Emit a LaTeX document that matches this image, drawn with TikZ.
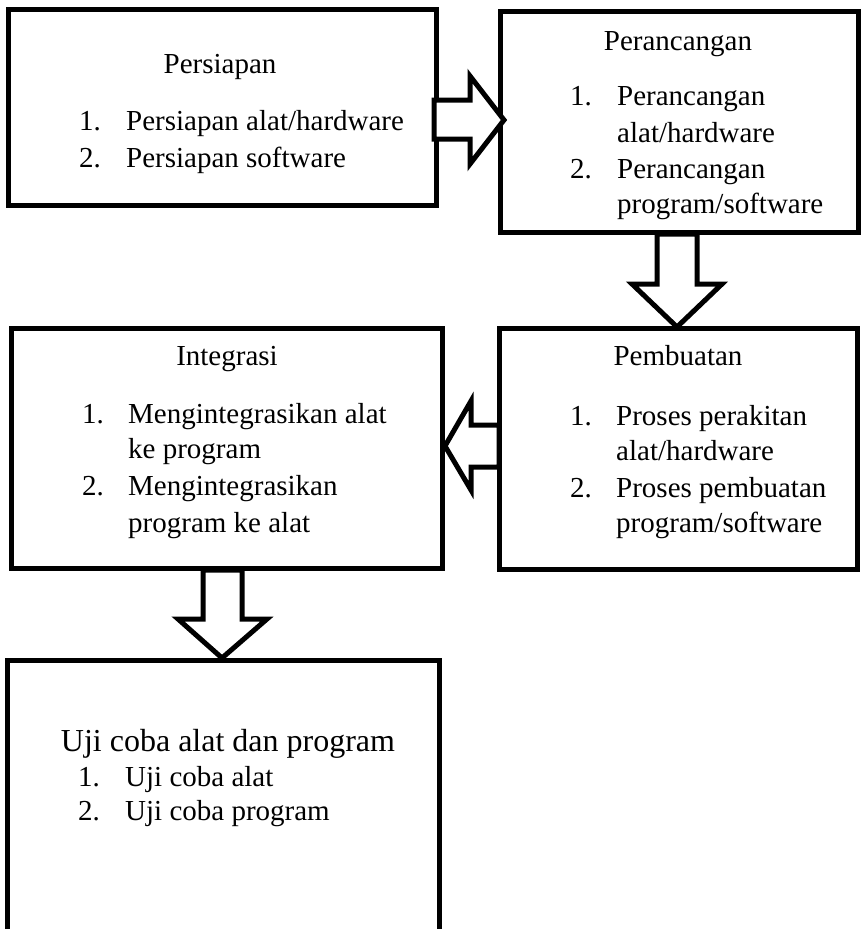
\documentclass[tikz,border=0pt]{standalone}
\usepackage{fontspec}
\setmainfont{Liberation Serif}
\begin{document}
\begin{tikzpicture}[x=1pt,y=-1pt,
  box/.style={draw=black, line width=5pt, rectangle, inner sep=0pt, outer sep=0pt},
  blockarrow/.style={draw=black, fill=white, line width=5pt, line join=miter},
  title/.style={anchor=base, inner sep=0pt, font=\fontsize{29}{35}\selectfont},
  item/.style={anchor=base west, inner sep=0pt, font=\fontsize{29}{35}\selectfont}]
\useasboundingbox[fill=white] (0,0) rectangle (864,929);
% boxes
\node[box, minimum width=428pt, minimum height=196pt] (persiapan) at (222,107) {};
\node[box, minimum width=358pt, minimum height=221pt] (perancangan) at (679,121.5) {};
\node[box, minimum width=431pt, minimum height=240pt] (integrasi) at (226.5,448) {};
\node[box, minimum width=358pt, minimum height=241pt] (pembuatan) at (678,448.5) {};
\coordinate (ujiBL) at (7,935);
\coordinate (ujiTL) at (7,660);
\coordinate (ujiTR) at (439,660);
\coordinate (ujiBR) at (439,935);
\draw[line width=5pt, line join=miter] (ujiBL) -- (ujiTL) -- (ujiTR) -- (ujiBR);
% block arrows
\draw[blockarrow] (434,100) -- (470,100) -- (470,76) -- (504,120) -- (470,164) -- (470,139) -- (434,139) -- cycle;
\draw[blockarrow] (657,234) -- (657,284) -- (632,284) -- (677,327) -- (722,284) -- (697,284) -- (697,234) -- cycle;
\draw[blockarrow] (499,425) -- (471,425) -- (471,401) -- (445,446) -- (471,490) -- (471,467) -- (499,467) -- cycle;
\draw[blockarrow] (203,570) -- (203,619) -- (178,619) -- (222,658) -- (267,619) -- (242,619) -- (242,570) -- cycle;
% Persiapan
\node[title] (t1) at (220,73) {Persiapan};
\node[item] (a1n) at (79,130) {1.};
\node[item] (a1t) at (126,130) {Persiapan alat/hardware};
\node[item] (a2n) at (79,167) {2.};
\node[item] (a2t) at (126,167) {Persiapan software};
% Perancangan
\node[title] (t2) at (678,50) {Perancangan};
\node[item] (b1n) at (570,105) {1.};
\node[item] (b1t) at (617,105) {Perancangan};
\node[item] (b1u) at (617,142) {alat/hardware};
\node[item] (b2n) at (570,178) {2.};
\node[item] (b2t) at (617,178) {Perancangan};
\node[item] (b2u) at (617,213) {program/software};
% Integrasi
\node[title] (t3) at (227,365) {Integrasi};
\node[item] (c1n) at (82,423) {1.};
\node[item] (c1t) at (128,423) {Mengintegrasikan alat};
\node[item] (c1u) at (128,458) {ke program};
\node[item] (c2n) at (82,495) {2.};
\node[item] (c2t) at (128,495) {Mengintegrasikan};
\node[item] (c2u) at (128,532) {program ke alat};
% Pembuatan
\node[title] (t4) at (678,365) {Pembuatan};
\node[item] (d1n) at (570,425) {1.};
\node[item] (d1t) at (616,425) {Proses perakitan};
\node[item] (d1u) at (616,460) {alat/hardware};
\node[item] (d2n) at (570,497) {2.};
\node[item] (d2t) at (616,497) {Proses pembuatan};
\node[item] (d2u) at (616,532) {program/software};
% Uji coba
\node[title, font=\fontsize{32}{38}\selectfont] (t5) at (228,751) {Uji coba alat dan program};
\node[item] (e1n) at (78,786) {1.};
\node[item] (e1t) at (125,786) {Uji coba alat};
\node[item] (e2n) at (78,820) {2.};
\node[item] (e2t) at (125,820) {Uji coba program};
\end{tikzpicture}
\end{document}
